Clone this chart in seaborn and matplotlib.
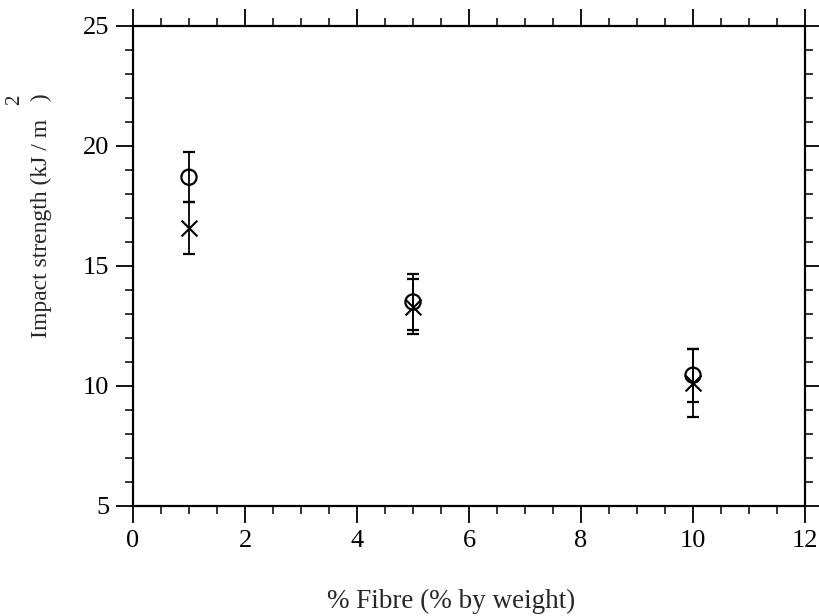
import numpy as np
import pandas as pd
import seaborn as sns
import matplotlib.pyplot as plt

fibre = [1, 5, 10]
circle_vals = [18.7, 13.5, 10.45]
circle_err = [1.05, 1.15, 1.1]
cross_vals = [16.58, 13.3, 10.12]
cross_err = [1.1, 1.15, 1.42]

df = pd.DataFrame({"fibre": fibre + fibre,
                   "strength": circle_vals + cross_vals,
                   "err": circle_err + cross_err,
                   "series": ["circle"] * 3 + ["cross"] * 3})

sns.set_style("ticks")
plt.rcParams["font.family"] = ["Liberation Serif", "DejaVu Serif"]

fig = plt.figure(figsize=(8.19, 6.16), dpi=100)
ax = fig.add_axes([133 / 819, 1 - 506 / 616, 672 / 819, 480 / 616])

for name, sub in df.groupby("series"):
    ax.errorbar(sub["fibre"], sub["strength"], yerr=sub["err"], fmt="none",
                ecolor="black", elinewidth=1.3, capsize=4.5, capthick=1.6)

circ = df[df["series"] == "circle"]
crs = df[df["series"] == "cross"]
sns.scatterplot(data=circ, x="fibre", y="strength", marker="o", s=120,
                facecolors="none", edgecolor="black", linewidth=1.6, ax=ax, zorder=3)
sns.scatterplot(data=crs, x="fibre", y="strength", marker="x", s=130,
                color="black", linewidth=1.5, ax=ax, zorder=3)

ax.set_xlim(0, 12)
ax.set_ylim(5, 25)
ax.set_xticks(np.arange(0, 13, 2))
ax.set_xticks(np.arange(0, 12.01, 0.5), minor=True)
ax.set_yticks(np.arange(5, 26, 5))
ax.set_yticks(np.arange(5, 25.01, 1), minor=True)
ax.tick_params(which="both", direction="out", top=True, right=True,
               labeltop=False, labelright=False, colors="black")
ax.tick_params(which="major", length=12, width=1.3, labelsize=19, pad=5)
ax.tick_params(which="minor", length=6, width=1.1)
for sp in ax.spines.values():
    sp.set_linewidth(1.6)
    sp.set_color("black")

ax.set_xlabel("% Fibre (% by weight)", fontsize=19.5)
ax.xaxis.set_label_coords(0.473, -0.172)
ax.set_ylabel("Impact strength (kJ / m   )", fontsize=17)
ax.yaxis.set_label_coords(-0.12, 0.604)
fig.text(15 / 819, 1 - 100 / 616, "2", fontsize=15, rotation=90,
         ha="center", va="center")

fig.savefig("out.png", dpi=100)
plt.close("all")
